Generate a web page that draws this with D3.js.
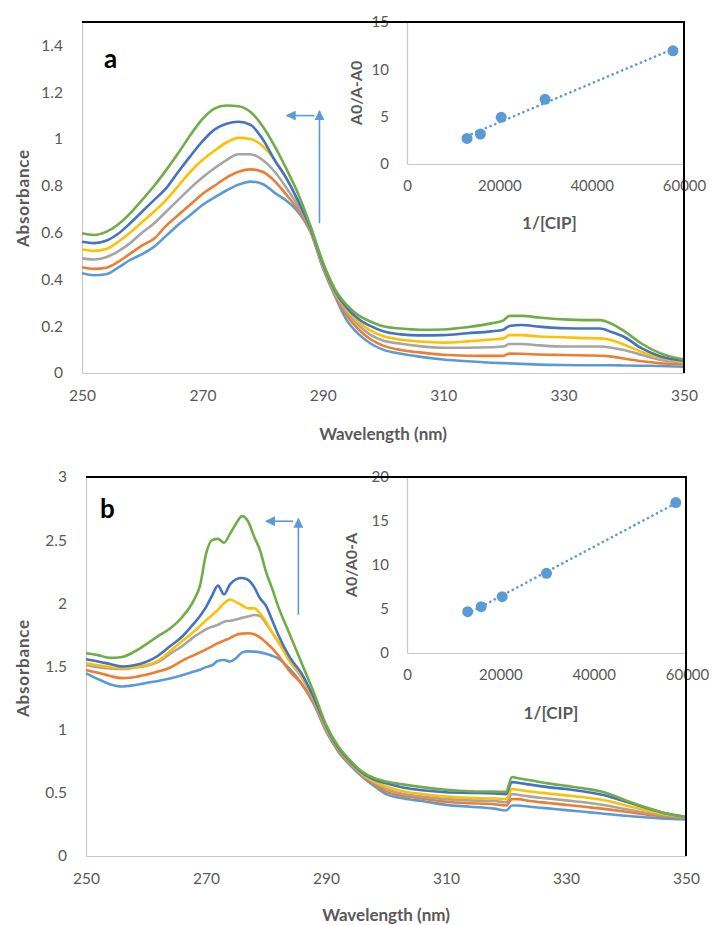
<!DOCTYPE html>
<html>
<head>
<meta charset="utf-8">
<script src="https://cdn.jsdelivr.net/npm/d3@7"></script>
<style>
  body { margin: 0; background: #fff; }
  svg text { font-family: Lato, "Open Sans", sans-serif; }
</style>
</head>
<body>
<svg id="fig" width="712" height="925"></svg>
<script>
// ---- panel a : spectra ----
const wlA = [250,252,254,256,258,260,262,264,266,268,270,272,274,276,278,280,282,284,286,288,290,292,294,296,298,300,
             303,306,310,314,318,320,321,323,326,330,334,336,338,340,343,346,350];
const a1 = [.426,.418,.422,.45,.483,.508,.54,.587,.634,.675,.718,.75,.78,.805,.818,.808,.77,.735,.685,.6,.45,.33,.225,.165,.125,.1,
            .082,.07,.058,.05,.044,.042,.041,.039,.036,.034,.033,.033,.033,.032,.031,.03,.027];
const a2 = [.452,.445,.45,.475,.51,.545,.575,.63,.675,.72,.765,.8,.835,.86,.87,.86,.82,.76,.695,.605,.455,.335,.245,.185,.143,.117,
            .098,.088,.078,.074,.073,.073,.083,.082,.079,.077,.075,.074,.07,.062,.05,.042,.038];
const a3 = [.49,.485,.495,.52,.555,.6,.64,.69,.74,.79,.835,.875,.91,.935,.935,.91,.86,.79,.71,.61,.46,.34,.26,.203,.162,.139,
            .125,.115,.108,.108,.11,.113,.124,.124,.118,.113,.113,.113,.108,.098,.077,.057,.044];
const a4 = [.528,.522,.53,.56,.6,.645,.69,.74,.8,.86,.91,.95,.985,1.005,1.0,.97,.91,.83,.73,.612,.465,.348,.27,.217,.181,.158,
            .142,.135,.13,.135,.143,.148,.162,.162,.156,.153,.149,.148,.14,.122,.09,.065,.048];
const a5 = [.561,.555,.565,.595,.64,.69,.74,.79,.86,.927,.99,1.04,1.065,1.074,1.06,1.0,.91,.83,.73,.615,.468,.352,.278,.23,.2,.178,
            .165,.161,.162,.17,.178,.185,.201,.205,.198,.191,.19,.19,.175,.155,.105,.072,.053];
const a6 = [.597,.59,.603,.635,.682,.74,.8,.868,.94,1.017,1.085,1.13,1.143,1.14,1.115,1.055,.97,.87,.76,.625,.475,.36,.29,.245,.219,.2,
            .19,.185,.186,.196,.212,.225,.244,.244,.237,.229,.226,.226,.21,.18,.125,.085,.058];

// ---- panel b : spectra ----
const wlB = [250,252,254,256,258,260,262,264,266,268,269,270,271,272,273,274,275,276,277,278,279,280,281,282,
             284,286,288,290,292,294,296,298,300,303,306,310,314,318,320,321,322,324,327,330,333,336,340,343,346,350];
const b1 = [1.446,1.4,1.36,1.342,1.352,1.37,1.385,1.405,1.43,1.46,1.475,1.495,1.51,1.545,1.552,1.54,1.565,1.61,1.62,1.618,1.612,1.6,1.585,1.565,
            1.48,1.36,1.2,.99,.83,.72,.63,.555,.49,.455,.435,.405,.39,.375,.36,.4,.4,.39,.377,.363,.35,.337,.318,.307,.298,.29];
const b2 = [1.473,1.45,1.425,1.408,1.415,1.435,1.46,1.49,1.545,1.59,1.612,1.635,1.66,1.685,1.705,1.725,1.75,1.76,1.763,1.755,1.73,1.69,1.645,1.59,
            1.46,1.36,1.21,1.0,.84,.73,.64,.57,.51,.475,.455,.43,.418,.41,.4,.45,.45,.435,.42,.405,.39,.375,.35,.33,.315,.3];
const b3 = [1.513,1.495,1.485,1.48,1.49,1.505,1.535,1.6,1.66,1.735,1.765,1.795,1.815,1.83,1.855,1.862,1.872,1.885,1.895,1.908,1.9,1.84,1.77,1.7,
            1.54,1.41,1.23,1.01,.85,.74,.645,.58,.53,.49,.47,.45,.44,.435,.425,.49,.485,.47,.455,.44,.425,.405,.37,.345,.325,.305];
const b4 = [1.525,1.51,1.495,1.487,1.495,1.51,1.545,1.62,1.7,1.776,1.82,1.865,1.905,1.95,2.0,2.03,2.01,1.985,1.96,1.96,1.92,1.855,1.77,1.7,
            1.54,1.42,1.24,1.02,.855,.745,.65,.59,.55,.51,.49,.47,.46,.455,.45,.53,.525,.51,.495,.48,.465,.445,.4,.365,.335,.31];
const b5 = [1.557,1.54,1.52,1.5,1.51,1.535,1.585,1.66,1.735,1.842,1.9,1.97,2.06,2.14,2.07,2.15,2.19,2.2,2.185,2.13,2.04,1.98,1.87,1.755,
            1.57,1.44,1.25,1.03,.86,.75,.66,.605,.575,.54,.52,.505,.5,.495,.49,.585,.58,.565,.545,.53,.51,.485,.43,.385,.345,.31];
const b6 = [1.605,1.59,1.568,1.575,1.615,1.675,1.74,1.8,1.89,2.027,2.14,2.39,2.5,2.51,2.48,2.55,2.63,2.69,2.65,2.53,2.42,2.25,2.12,1.98,
            1.75,1.52,1.29,1.04,.87,.758,.668,.618,.59,.565,.545,.525,.513,.51,.508,.625,.615,.6,.575,.555,.535,.508,.44,.39,.345,.31];

// ---- insets (Benesi-Hildebrand plots) ----
const cipInv = [13000, 15900, 20400, 29900, 57600];
const ratioA = [2.7, 3.17, 4.93, 6.83, 11.95];
const ratioB = [4.7, 5.26, 6.4, 9.06, 17.1];

// ---- ticks ----
const wlTicks = [250, 270, 290, 310, 330, 350];
const yTicksA = [0, 0.2, 0.4, 0.6, 0.8, 1, 1.2, 1.4];
const yTicksB = [0, 0.5, 1, 1.5, 2, 2.5, 3];
const insetXTicks = [0, 20000, 40000, 60000];
const insetYTicksA = [0, 5, 10, 15];
const insetYTicksB = [0, 5, 10, 15, 20];

const colors = ["#5B9BD5", "#ED7D31", "#A5A5A5", "#FFC000", "#4472C4", "#70AD47"];
const txt = "#595959";

const svg = d3.select("#fig");
svg.append("rect").attr("width", 712).attr("height", 925).attr("fill", "#fff");

svg.append("defs").append("marker")
    .attr("id", "head")
    .attr("viewBox", "0 0 10 10")
    .attr("refX", 9).attr("refY", 5)
    .attr("markerUnits", "userSpaceOnUse")
    .attr("markerWidth", 11).attr("markerHeight", 10)
    .attr("orient", "auto")
  .append("path")
    .attr("d", "M0,0L10,5L0,10Z")
    .attr("fill", "#5B9BD5");

function styleAxis(sel, size) {
    sel.attr("font-family", null).attr("font-size", null);
    sel.select(".domain").attr("stroke", "#c8c8c8").attr("stroke-width", 1.2);
    sel.selectAll("text").attr("fill", txt).style("font-size", size + "px");
}

function drawPanel(p) {
    const g = svg.append("g");
    const x = d3.scaleLinear().domain([250, 350]).range([p.left, p.right]);
    const y = d3.scaleLinear().domain([0, p.yMax]).range([p.bottom, p.top]);

    g.append("g")
        .attr("transform", `translate(0,${p.bottom})`)
        .call(d3.axisBottom(x).tickValues(wlTicks).tickSize(0).tickPadding(17))
        .call(s => styleAxis(s, 15.5));
    g.append("g")
        .attr("transform", `translate(${p.left},0)`)
        .call(d3.axisLeft(y).tickValues(p.yTicks).tickSize(0).tickPadding(p.yPad).tickFormat(d => String(d)))
        .call(s => styleAxis(s, 15.5));

    const line = d3.line()
        .x((d, i) => x(p.wl[i]))
        .y(d => y(d))
        .curve(d3.curveMonotoneX);

    g.selectAll("path.spec")
        .data(p.series)
        .join("path")
        .attr("class", "spec")
        .attr("d", line)
        .attr("fill", "none")
        .attr("stroke", (d, i) => colors[i])
        .attr("stroke-width", 2.6)
        .attr("stroke-linejoin", "round");

    // arrows
    const ar = p.arrow;
    g.append("line")
        .attr("x1", x(ar.vx)).attr("y1", y(ar.vy0))
        .attr("x2", x(ar.vx)).attr("y2", y(ar.vy1))
        .attr("stroke", "#5B9BD5").attr("stroke-width", 1.6)
        .attr("marker-end", "url(#head)");
    g.append("line")
        .attr("x1", x(ar.hx0)).attr("y1", y(ar.hy))
        .attr("x2", x(ar.hx1)).attr("y2", y(ar.hy))
        .attr("stroke", "#5B9BD5").attr("stroke-width", 1.6)
        .attr("marker-end", "url(#head)");

    // axis titles
    g.append("text")
        .attr("x", (p.left + p.right) / 2).attr("y", p.xTitleY)
        .attr("text-anchor", "middle").attr("dominant-baseline", "central")
        .attr("fill", txt).attr("font-weight", 700).style("font-size", "17px")
        .text("Wavelength (nm)");
    g.append("text")
        .attr("transform", `translate(22,${p.yTitleY}) rotate(-90)`)
        .attr("text-anchor", "middle").attr("dominant-baseline", "central")
        .attr("fill", txt).attr("font-weight", 700).style("font-size", "17px")
        .style("letter-spacing", "0.8px")
        .text("Absorbance");

    // panel letter
    g.append("text")
        .attr("x", p.letterX).attr("y", p.letterY)
        .attr("fill", "#000").attr("font-weight", 700).style("font-size", "26px")
        .text(p.letter);

    // inset
    const q = p.inset;
    const ix = d3.scaleLinear().domain([0, 60000]).range([q.left, q.right]);
    const iy = d3.scaleLinear().domain([0, q.yMax]).range([q.bottom, q.top]);
    const ig = svg.append("g");

    ig.append("g")
        .attr("transform", `translate(0,${q.bottom})`)
        .call(d3.axisBottom(ix).tickValues(insetXTicks).tickSize(0).tickPadding(16).tickFormat(d3.format("d")))
        .call(s => styleAxis(s, 15));
    ig.append("g")
        .attr("transform", `translate(${q.left},0)`)
        .call(d3.axisLeft(iy).tickValues(q.yTicks).tickSize(0).tickPadding(18))
        .call(s => styleAxis(s, 15));

    // linear trendline
    const mx = d3.mean(cipInv), my = d3.mean(q.values);
    const slope = d3.sum(cipInv, (v, i) => (v - mx) * (q.values[i] - my)) / d3.sum(cipInv, v => (v - mx) * (v - mx));
    const icpt = my - slope * mx;
    const ext = d3.extent(cipInv);
    ig.append("line")
        .attr("x1", ix(ext[0])).attr("y1", iy(icpt + slope * ext[0]))
        .attr("x2", ix(ext[1])).attr("y2", iy(icpt + slope * ext[1]))
        .attr("stroke", "#5B9BD5").attr("stroke-width", 2.6)
        .attr("stroke-linecap", "round").attr("stroke-dasharray", "0.1 5");

    ig.selectAll("circle")
        .data(q.values)
        .join("circle")
        .attr("cx", (d, i) => ix(cipInv[i]))
        .attr("cy", d => iy(d))
        .attr("r", 5.5)
        .attr("fill", "#5B9BD5");

    ig.append("text")
        .attr("x", (q.left + q.right) / 2 + 4).attr("y", q.xTitleY)
        .attr("text-anchor", "middle").attr("dominant-baseline", "central")
        .attr("fill", txt).attr("font-weight", 700).style("font-size", "17px")
        .text("1/[CIP]");
    ig.append("text")
        .attr("transform", `translate(${q.yTitleX},${(q.top + q.bottom) / 2}) rotate(-90)`)
        .attr("text-anchor", "middle").attr("dominant-baseline", "central")
        .attr("fill", txt).attr("font-weight", 700).style("font-size", "16px")
        .text(q.yLabel);

    // black frame on top and right
    svg.append("path")
        .attr("d", `M${p.left},${p.top}H${p.right}V${p.bottom}`)
        .attr("fill", "none").attr("stroke", "#000").attr("stroke-width", 2);
}

drawPanel({
    letter: "a", wl: wlA, series: [a1, a2, a3, a4, a5, a6],
    left: 82, right: 684, top: 22, bottom: 373,
    yMax: 1.5, yTicks: yTicksA, yPad: 19,
    xTitleY: 433, yTitleY: 198, letterX: 104, letterY: 68,
    arrow: { vx: 289.45, vy0: 0.64, vy1: 1.12, hx0: 288.6, hx1: 284.0, hy: 1.10 },
    inset: { left: 407, right: 684, top: 22, bottom: 164, yMax: 15, yTicks: insetYTicksA,
             values: ratioA, yLabel: "A0/A-A0", xTitleY: 222, yTitleX: 355 }
});

drawPanel({
    letter: "b", wl: wlB, series: [b1, b2, b3, b4, b5, b6],
    left: 86, right: 686, top: 477, bottom: 856,
    yMax: 3, yTicks: yTicksB, yPad: 19,
    xTitleY: 914, yTitleY: 668, letterX: 100, letterY: 518,
    arrow: { vx: 285.4, vy0: 1.91, vy1: 2.67, hx0: 284.5, hx1: 280.0, hy: 2.65 },
    inset: { left: 407, right: 687, top: 477, bottom: 653, yMax: 20, yTicks: insetYTicksB,
             values: ratioB, yLabel: "A0/A0-A", xTitleY: 712, yTitleX: 350 }
});
</script>
</body>
</html>
